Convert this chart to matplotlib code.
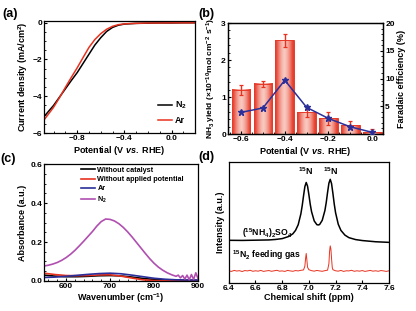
import matplotlib
matplotlib.use('Agg')
import matplotlib.pyplot as plt
import numpy as np
from matplotlib.colors import LinearSegmentedColormap

plt.rcParams['font.family'] = ['Liberation Sans', 'DejaVu Sans']
plt.rcParams['font.weight'] = 'bold'
plt.rcParams['axes.labelweight'] = 'bold'
plt.rcParams['mathtext.fontset'] = 'custom'
plt.rcParams['mathtext.rm'] = 'Liberation Sans:bold'
plt.rcParams['mathtext.bf'] = 'Liberation Sans:bold'
plt.rcParams['mathtext.it'] = 'Liberation Sans:italic:bold'
plt.rcParams['mathtext.default'] = 'bf'
plt.rcParams['xtick.direction'] = 'in'
plt.rcParams['ytick.direction'] = 'in'
plt.rcParams['xtick.major.size'] = 2.5
plt.rcParams['ytick.major.size'] = 2.5
plt.rcParams['xtick.minor.size'] = 1.5
plt.rcParams['ytick.minor.size'] = 1.5
plt.rcParams['axes.linewidth'] = 0.9

# (a) LSV curves
pot_n2 = [-1.08, -1.0, -0.95, -0.9, -0.85, -0.8, -0.75, -0.7, -0.65, -0.6, -0.55, -0.5, -0.45, -0.4, -0.35, -0.3, -0.2, -0.1, 0.0, 0.1, 0.2]
cur_n2 = [-5.1, -4.5, -4.05, -3.6, -3.15, -2.72, -2.22, -1.72, -1.22, -0.82, -0.48, -0.26, -0.14, -0.08, -0.06, -0.04, -0.03, -0.02, -0.02, -0.01, -0.01]
pot_ar = [-1.08, -1.0, -0.95, -0.9, -0.85, -0.8, -0.75, -0.7, -0.65, -0.6, -0.55, -0.5, -0.45, -0.4, -0.35, -0.3, -0.2, -0.1, 0.0, 0.1, 0.2]
cur_ar = [-5.28, -4.6, -4.08, -3.52, -2.98, -2.46, -1.9, -1.35, -0.92, -0.6, -0.36, -0.2, -0.11, -0.07, -0.05, -0.04, -0.02, -0.02, -0.01, -0.01, -0.01]

# (b) NH3 yield and Faradaic efficiency
pot_b = [-0.6, -0.5, -0.4, -0.3, -0.2, -0.1, 0.0]
yield_nh3 = [1.19, 1.36, 2.53, 0.59, 0.42, 0.24, 0.05]
yield_err = [0.14, 0.08, 0.17, 0.13, 0.17, 0.1, 0.09]
fe = [3.9, 4.7, 9.7, 4.8, 2.8, 1.3, 0.3]

# (c) UV-vis absorbance
wn_c = [550, 575, 600, 625, 650, 675, 700, 725, 750, 775, 800, 825, 850, 875, 900]
abs_nocat = [0.03, 0.025, 0.022, 0.022, 0.024, 0.027, 0.028, 0.026, 0.02, 0.013, 0.008, 0.005, 0.004, 0.003, 0.003]
abs_nopot = [0.04, 0.033, 0.028, 0.027, 0.028, 0.031, 0.032, 0.025, 0.015, 0.006, 0.002, 0.001, 0.001, 0.0, 0.0]
abs_ar = [0.018, 0.02, 0.024, 0.029, 0.034, 0.038, 0.04, 0.037, 0.03, 0.022, 0.014, 0.009, 0.006, 0.005, 0.005]
wn_n2 = [550, 560, 570, 580, 590, 600, 610, 620, 630, 640, 650, 660, 670, 680, 690, 700, 710, 720, 730, 740,
         750, 760, 770, 780, 790, 800, 810, 820, 830, 840, 850, 855, 860, 865, 870, 875, 880, 885, 890, 895, 900]
abs_n2 = [0.077, 0.081, 0.087, 0.095, 0.106, 0.12, 0.137, 0.157, 0.18, 0.204, 0.229, 0.254, 0.282, 0.305, 0.318, 0.316, 0.308, 0.294, 0.275, 0.252,
          0.226, 0.198, 0.17, 0.142, 0.115, 0.091, 0.071, 0.055, 0.042, 0.032, 0.024, 0.03, 0.016, 0.028, 0.01, 0.03, 0.006, 0.033, 0.008, 0.042, 0.012]

# (d) 1H NMR
ppm_std = [6.40, 6.50, 6.60, 6.70, 6.75, 6.80, 6.85, 6.88, 6.90, 6.92, 6.94, 6.95, 6.96, 6.97, 6.98, 6.99, 7.00, 7.01, 7.02, 7.04, 7.06,
           7.07, 7.08, 7.10, 7.12, 7.13, 7.14, 7.15, 7.16, 7.17, 7.18, 7.19, 7.20, 7.22, 7.24, 7.27, 7.30, 7.35, 7.40, 7.50, 7.60]
int_std = [0.353, 0.352, 0.354, 0.356, 0.360, 0.367, 0.385, 0.407, 0.435, 0.482, 0.572, 0.639, 0.721, 0.797, 0.831, 0.801, 0.730, 0.652, 0.590, 0.513, 0.482,
           0.480, 0.483, 0.518, 0.599, 0.665, 0.749, 0.825, 0.857, 0.821, 0.741, 0.653, 0.581, 0.486, 0.435, 0.396, 0.375, 0.359, 0.351, 0.341, 0.336]
ppm_gas = [6.40, 6.42, 6.44, 6.46, 6.48, 6.50, 6.52, 6.54, 6.56, 6.58, 6.60, 6.62, 6.64, 6.66, 6.68, 6.70, 6.72, 6.74, 6.76, 6.78, 6.80,
           6.82, 6.84, 6.86, 6.88, 6.90, 6.92, 6.94, 6.96, 6.97, 6.975, 6.98, 6.985, 6.99, 7.00, 7.02, 7.04, 7.06, 7.08, 7.10, 7.12,
           7.14, 7.15, 7.155, 7.16, 7.165, 7.17, 7.175, 7.18, 7.20, 7.22, 7.24, 7.26, 7.28, 7.30, 7.32, 7.34, 7.36, 7.38, 7.40,
           7.42, 7.44, 7.46, 7.48, 7.50, 7.52, 7.54, 7.56, 7.58, 7.60]
int_gas = [0.100, 0.096, 0.104, 0.099, 0.102, 0.095, 0.103, 0.100, 0.105, 0.097, 0.101, 0.098, 0.104, 0.096, 0.100, 0.103, 0.097, 0.101, 0.105, 0.098, 0.100,
           0.096, 0.104, 0.100, 0.097, 0.103, 0.100, 0.105, 0.108, 0.14, 0.20, 0.244, 0.19, 0.13, 0.11, 0.102, 0.098, 0.104, 0.100, 0.097, 0.102,
           0.106, 0.16, 0.26, 0.307, 0.28, 0.20, 0.13, 0.11, 0.101, 0.098, 0.104, 0.096, 0.101, 0.100, 0.105, 0.097, 0.101, 0.098, 0.103,
           0.096, 0.100, 0.104, 0.098, 0.101, 0.097, 0.103, 0.100, 0.096, 0.101]

fig = plt.figure(figsize=(4.16, 3.11), dpi=100)
tick_fs = 6
lab_fs = 6.5

def style(ax):
    ax.tick_params(labelsize=tick_fs, pad=1.5)
    ax.minorticks_on()

# ---- (a)
axa = fig.add_axes([0.106, 0.572, 0.363, 0.360])
axa.plot(pot_n2, cur_n2, color='black', lw=1.1, label='N$_2$')
axa.plot(pot_ar, cur_ar, color='#e8321f', lw=1.1, label='Ar')
axa.set_xlim(-1.08, 0.2)
axa.set_ylim(-6, 0.08)
axa.set_xticks([-0.8, -0.4, 0.0])
axa.set_yticks([-6, -4, -2, 0])
style(axa)
axa.set_xlabel('Potential (V $\\mathit{vs.}$ RHE)', fontsize=lab_fs, labelpad=1)
axa.set_ylabel('Current density (mA/cm$^2$)', fontsize=lab_fs, labelpad=2)
axa.legend(loc='lower right', fontsize=6.5, frameon=False, handlelength=1.6, handletextpad=0.3,
           labelspacing=0.5, borderaxespad=0.5)

# ---- (b)
axb = fig.add_axes([0.548, 0.569, 0.373, 0.357])
bar_cmap = LinearSegmentedColormap.from_list('barg', ['#e63b2a', '#f9cfc6'])
grad = np.array([[0.0, 0.35, 0.65, 0.85, 1.0, 0.85, 0.65, 0.35, 0.0]])
bw = 0.086
for x, h in zip(pot_b, yield_nh3):
    axb.imshow(grad, extent=[x - bw / 2, x + bw / 2, 0, h], aspect='auto', cmap=bar_cmap,
               vmin=0, vmax=1, zorder=1, interpolation='bicubic')
axb.bar(pot_b, yield_nh3, width=bw, facecolor='none', edgecolor='#e63b2a', lw=0.7, zorder=2)
axb.errorbar(pot_b, yield_nh3, yerr=yield_err, fmt='none', ecolor='#e8321f', elinewidth=1.0,
             capsize=1.6, capthick=0.9, zorder=3)
axb.set_xlim(-0.66, 0.05)
axb.set_ylim(0, 3)
axb.set_xticks([-0.6, -0.4, -0.2, 0.0])
axb.set_yticks([0, 1, 2, 3])
style(axb)
axb.set_xlabel('Potential (V $\\mathit{vs.}$ RHE)', fontsize=lab_fs, labelpad=1)
axb.set_ylabel('NH$_3$ yield (\u00d710$^{-10}$mol cm$^{-2}$ s$^{-1}$)', fontsize=6.0, labelpad=2)
axb2 = axb.twinx()
axb2.plot(pot_b, fe, color='#2b2f9a', lw=1.1, marker='*', ms=4.5, zorder=4)
axb2.set_ylim(0, 20)
axb2.set_yticks([5, 10, 15, 20])
axb2.tick_params(labelsize=tick_fs, pad=1.5)
axb2.minorticks_on()
axb2.set_ylabel('Faradaic efficiency (%)', fontsize=lab_fs, labelpad=2)

# ---- (c)
axc = fig.add_axes([0.106, 0.0965, 0.370, 0.376])
axc.plot(wn_c, abs_nocat, color='black', lw=1.2, label='Without catalyst')
axc.plot(wn_c, abs_nopot, color='#e8321f', lw=1.2, label='Without applied potential')
axc.plot(wn_c, abs_ar, color='#2b2f9a', lw=1.2, label='Ar')
axc.plot(wn_n2, abs_n2, color='#b04fb0', lw=1.2, label='N$_2$')
axc.set_xlim(550, 900)
axc.set_ylim(0, 0.6)
axc.set_xticks([600, 700, 800, 900])
axc.set_yticks([0.0, 0.2, 0.4, 0.6])
style(axc)
axc.set_xlabel('Wavenumber (cm$^{-1}$)', fontsize=lab_fs, labelpad=1)
axc.set_ylabel('Absorbance (a.u.)', fontsize=lab_fs, labelpad=2)
axc.legend(loc='upper left', bbox_to_anchor=(0.22, 1.0), fontsize=5.2, frameon=False,
           handlelength=2.0, handletextpad=0.3, labelspacing=0.3, borderaxespad=0.2, borderpad=0.2)

# ---- (d)
axd = fig.add_axes([0.550, 0.090, 0.385, 0.389])
axd.plot(ppm_std, int_std, color='black', lw=1.1)
axd.plot(ppm_gas, int_gas, color='#e8321f', lw=0.7)
axd.set_xlim(6.4, 7.6)
axd.set_ylim(0, 1)
axd.set_xticks([6.4, 6.6, 6.8, 7.0, 7.2, 7.4, 7.6])
axd.set_yticks([])
axd.tick_params(labelsize=tick_fs, pad=1.5)
axd.set_xlabel('Chemical shift (ppm)', fontsize=lab_fs, labelpad=1)
axd.set_ylabel('Intensity (a.u.)', fontsize=lab_fs, labelpad=3)
axd.text(6.975, 0.88, '$^{15}$N', fontsize=6.5, ha='center', va='bottom')
axd.text(7.165, 0.88, '$^{15}$N', fontsize=6.5, ha='center', va='bottom')
axd.text(6.69, 0.41, '($^{15}$NH$_4$)$_2$SO$_4$', fontsize=6.2, ha='center', va='center')
axd.text(6.68, 0.23, '$^{15}$N$_2$ feeding gas', fontsize=6.2, ha='center', va='center')

# panel labels
for lab, x, y in [('(a)', 0.005, 0.955), ('(b)', 0.476, 0.955), ('(c)', 0.0, 0.49), ('(d)', 0.478, 0.495)]:
    fig.text(x, y, lab, fontsize=9, ha='left', va='center')

plt.savefig('out.png', dpi=100)
